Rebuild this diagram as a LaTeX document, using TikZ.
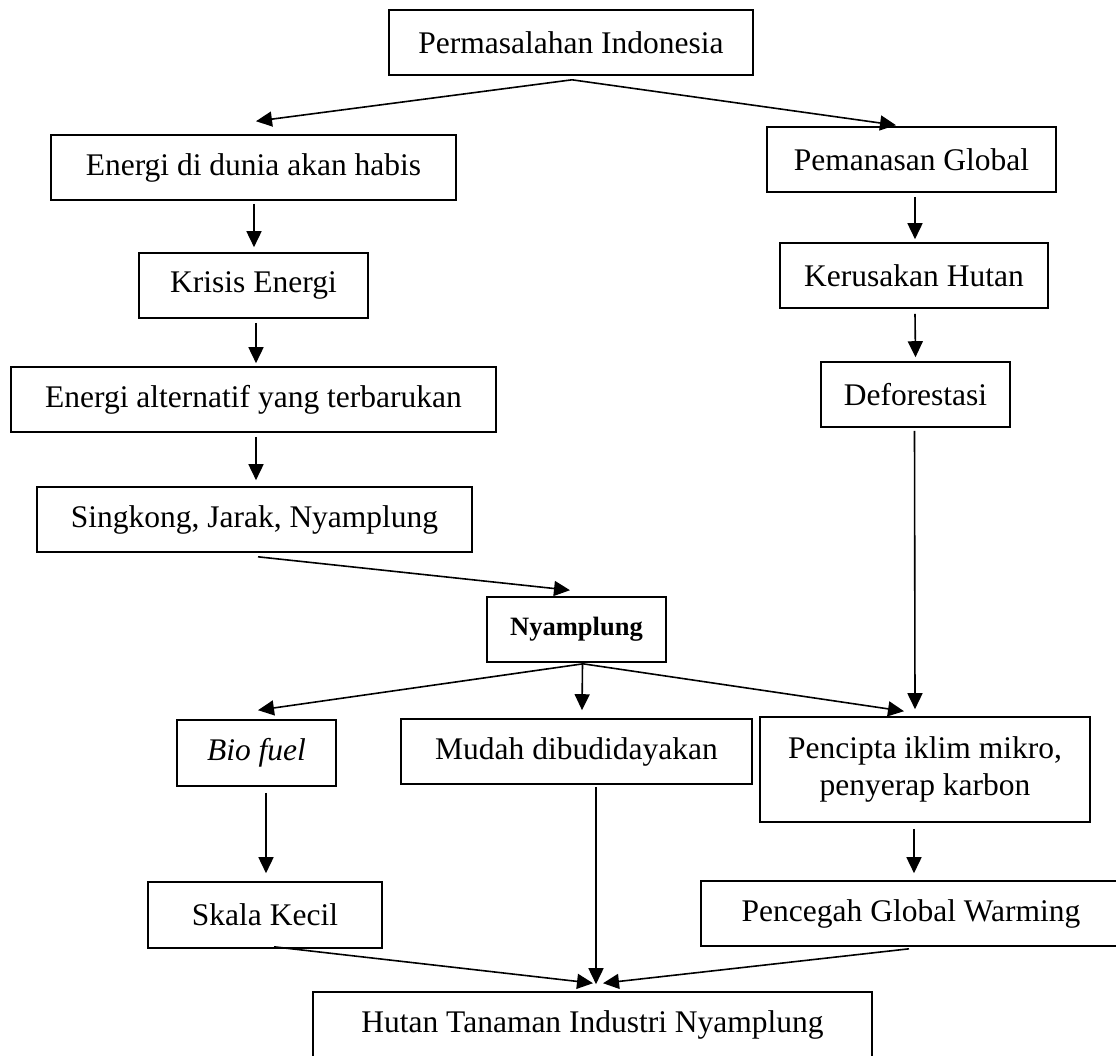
\documentclass[tikz,border=0pt]{standalone}
\usepackage{fontspec}
\setmainfont{Liberation Serif}
\usetikzlibrary{arrows.meta,calc}
\tikzset{
  box/.style={draw, line width=1.6pt, inner sep=0pt, align=center,
    font=\fontsize{31.5}{37}\selectfont},
  conn/.style={line width=1.6pt, -{Triangle[length=16pt,width=15pt]}},
}
\begin{document}
\begin{tikzpicture}[x=1pt,y=-1pt]
\useasboundingbox (0,0) rectangle (1116,1055);
\node[box, minimum width=364pt, minimum height=65pt] (perm) at (571,42.5) {Permasalahan Indonesia};
\node[box, minimum width=405pt, minimum height=65pt] (energi) at (253.5,167.5) {Energi di dunia akan habis};
\node[box, minimum width=289pt, minimum height=65pt] (pemanasan) at (911.5,159.5) {Pemanasan Global};
\node[box, minimum width=229pt, minimum height=65pt] (krisis) at (253.5,285.5) {Krisis Energi};
\node[box, minimum width=268pt, minimum height=65pt] (kerusakan) at (914,275.5) {Kerusakan Hutan};
\node[box, minimum width=485pt, minimum height=65pt] (alternatif) at (253.5,399.5) {Energi alternatif yang terbarukan};
\node[box, minimum width=189pt, minimum height=65pt] (deforestasi) at (915.5,394.5) {Deforestasi};
\node[box, minimum width=435pt, minimum height=65pt] (singkong) at (254.5,519.5) {Singkong, Jarak, Nyamplung};
\node[box, minimum width=179pt, minimum height=65pt, font=\fontsize{26.5}{31}\selectfont\bfseries] (nyamplung) at (576.5,629.5) {Nyamplung};
\node[box, minimum width=159pt, minimum height=66pt] (biofuel) at (256.5,753) {\itshape Bio fuel};
\node[box, minimum width=351pt, minimum height=65pt] (mudah) at (576.5,751.5) {Mudah dibudidayakan};
\node[box, minimum width=330pt, minimum height=105pt] (pencipta) at (925,769.5) {Pencipta iklim mikro,\\penyerap karbon};
\node[box, minimum width=234pt, minimum height=66pt] (skala) at (265,915) {Skala Kecil};
\node[box, minimum width=420pt, minimum height=65pt] (pencegah) at (911,913.5) {Pencegah Global Warming};
\node[box, minimum width=559pt, minimum height=65pt] (hutan) at (592.5,1024.5) {Hutan Tanaman Industri Nyamplung};

\draw[conn] ($(perm.south)+(1,4)$) -- ($(energi.north)+(2.5,-13)$);
\draw[conn] ($(perm.south)+(1,4)$) -- ($(pemanasan.north)+(-15.5,-1)$);
\draw[conn] ($(energi.south)+(0.5,3)$) -- ($(krisis.north)+(0.5,-5)$);
\draw[conn] ($(krisis.south)+(2.5,4)$) -- ($(alternatif.north)+(2.5,-3)$);
\draw[conn] ($(alternatif.south)+(2.5,4)$) -- ($(singkong.north)+(1.5,-6)$);
\draw[conn] ($(singkong.south)+(3.5,4)$) -- ($(nyamplung.north)+(-6.5,-6)$);
\draw[conn] ($(pemanasan.south)+(3.5,4)$) -- ($(kerusakan.north)+(1,-3)$);
\draw[conn] ($(kerusakan.south)+(1,5)$) -- ($(deforestasi.north)+(0,-4)$);
\draw[conn] ($(deforestasi.south)+(-1,3)$) -- ($(pencipta.north)+(-10,-7)$);
\draw[conn] ($(nyamplung.south)+(6.5,1)$) -- ($(biofuel.north)+(1.5,-9)$);
\draw[conn] ($(nyamplung.south)+(6,1)$) -- ($(mudah.north)+(5.5,-8)$);
\draw[conn] ($(nyamplung.south)+(6.5,1)$) -- ($(pencipta.north)+(-21,-5)$);
\draw[conn] ($(biofuel.south)+(9.5,6)$) -- ($(skala.north)+(1,-8)$);
\draw[conn] ($(mudah.south)+(19.5,2)$) -- ($(hutan.north)+(3.5,-7)$);
\draw[conn] ($(pencipta.south)+(-11,6)$) -- ($(pencegah.north)+(3,-7)$);
\draw[conn] ($(skala.south)+(9,-2)$) -- ($(hutan.north)+(0.5,-8)$);
\draw[conn] ($(pencegah.south)+(-2,2)$) -- ($(hutan.north)+(10.5,-8)$);
\end{tikzpicture}
\end{document}
